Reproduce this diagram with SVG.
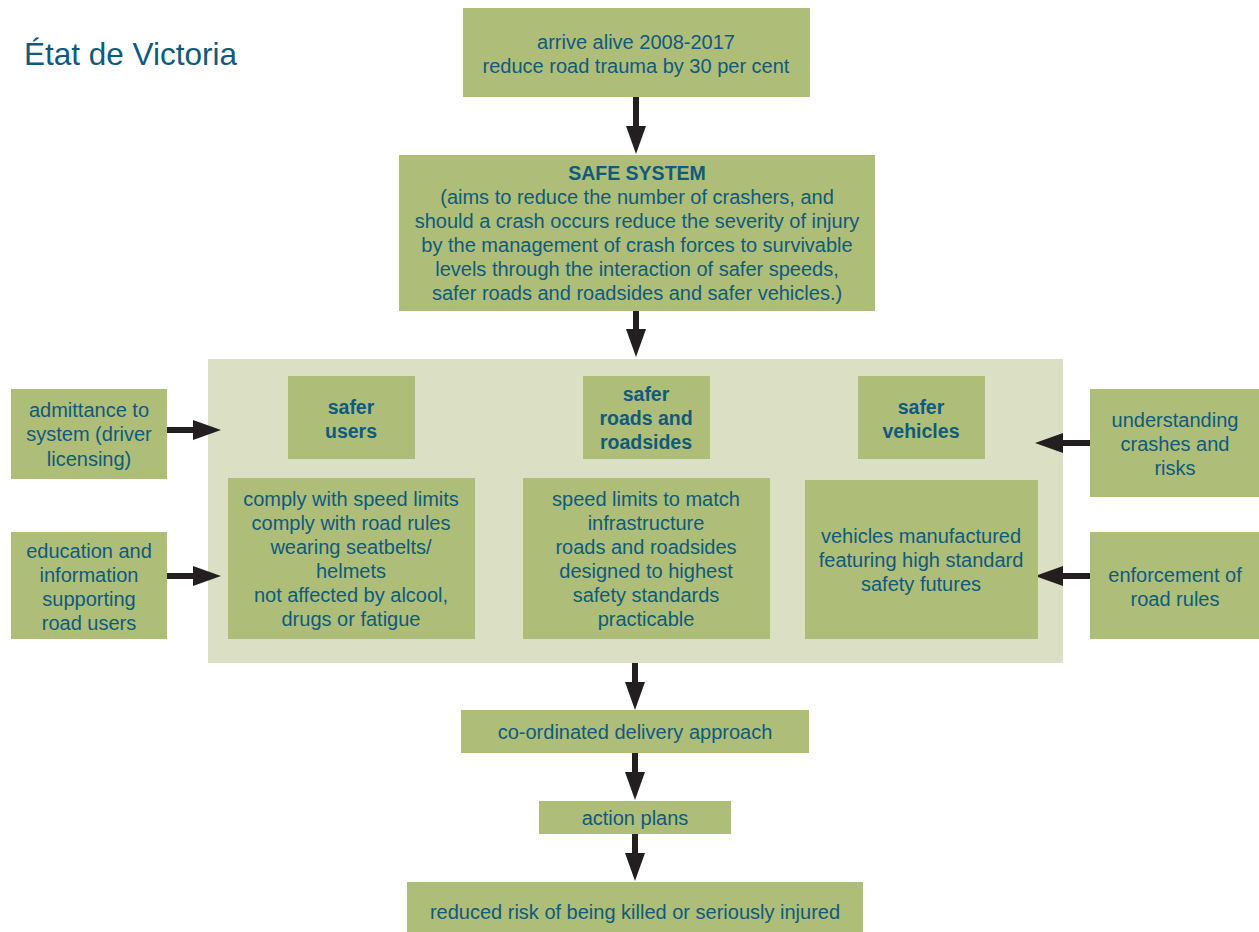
<svg xmlns="http://www.w3.org/2000/svg" width="1259" height="932" viewBox="0 0 1259 932">
<style>
.box{fill:#aebd78}
.bg{fill:#dbe0c5}
text{font-family:"Liberation Sans",Arial,sans-serif;font-size:20px;fill:#0e5b7d;text-anchor:middle}
.b{font-weight:bold;font-size:19.5px}
.title{font-size:31.5px;text-anchor:start}
.arr{stroke:#231f20;stroke-width:6;fill:none;marker-end:url(#ah)}
</style>
<defs>
<marker id="ah" markerUnits="userSpaceOnUse" markerWidth="28" markerHeight="20" refX="1" refY="10" orient="auto">
<path d="M0,0 L28,10 L0,20 z" fill="#231f20"/>
</marker>
</defs>
<rect width="1259" height="932" fill="#ffffff"/>
<text class="title" x="24" y="65">État de Victoria</text>
<g id="system-area"><rect class="bg" x="208" y="359" width="855" height="304"/></g>
<g id="connectors">
<line class="arr" x1="636" y1="97" x2="636" y2="127"/>
<line class="arr" x1="636" y1="311" x2="636" y2="330"/>
<line class="arr" x1="167" y1="430" x2="194" y2="430"/>
<line class="arr" x1="167" y1="576" x2="194" y2="576"/>
<line class="arr" x1="1090" y1="443" x2="1062" y2="443"/>
<line class="arr" x1="1090" y1="576" x2="1062" y2="576"/>
<line class="arr" x1="635" y1="663" x2="635" y2="683"/>
<line class="arr" x1="635" y1="753" x2="635" y2="773"/>
<line class="arr" x1="635" y1="834" x2="635" y2="854"/>
</g>
<g id="arrive-alive"><rect class="box" x="463" y="8" width="347" height="89"/>
<text x="636" y="49">arrive alive 2008-2017</text>
<text x="636" y="73">reduce road trauma by 30 per cent</text></g>
<g id="safe-system"><rect class="box" x="399" y="155" width="476" height="156"/>
<text class="b" x="637" y="180">SAFE SYSTEM</text>
<text x="637" y="204">(aims to reduce the number of crashers, and</text>
<text x="637" y="228">should a crash occurs reduce the severity of injury</text>
<text x="637" y="252">by the management of crash forces to survivable</text>
<text x="637" y="276">levels through the interaction of safer speeds,</text>
<text x="637" y="300">safer roads and roadsides and safer vehicles.)</text></g>
<g id="admittance"><rect class="box" x="11" y="389" width="156" height="90"/>
<text x="89" y="417">admittance to</text>
<text x="89" y="441">system (driver</text>
<text x="89" y="466">licensing)</text></g>
<g id="education"><rect class="box" x="11" y="532" width="156" height="107"/>
<text x="89" y="558">education and</text>
<text x="89" y="582">information</text>
<text x="89" y="606">supporting</text>
<text x="89" y="630">road users</text></g>
<g id="safer-users"><rect class="box" x="288" y="376" width="127" height="83"/>
<text class="b" x="351" y="414">safer</text>
<text class="b" x="351" y="438">users</text></g>
<g id="users-detail"><rect class="box" x="228" y="478" width="247" height="161"/>
<text x="351" y="506">comply with speed limits</text>
<text x="351" y="530">comply with road rules</text>
<text x="351" y="554">wearing seatbelts/</text>
<text x="351" y="578">helmets</text>
<text x="351" y="602">not affected by alcool,</text>
<text x="351" y="626">drugs or fatigue</text></g>
<g id="safer-roads"><rect class="box" x="583" y="376" width="127" height="83"/>
<text class="b" x="646" y="401">safer</text>
<text class="b" x="646" y="425">roads and</text>
<text class="b" x="646" y="449">roadsides</text></g>
<g id="roads-detail"><rect class="box" x="523" y="478" width="247" height="161"/>
<text x="646" y="506">speed limits to match</text>
<text x="646" y="530">infrastructure</text>
<text x="646" y="554">roads and roadsides</text>
<text x="646" y="578">designed to highest</text>
<text x="646" y="602">safety standards</text>
<text x="646" y="626">practicable</text></g>
<g id="safer-vehicles"><rect class="box" x="858" y="376" width="127" height="83"/>
<text class="b" x="921" y="414">safer</text>
<text class="b" x="921" y="438">vehicles</text></g>
<g id="vehicles-detail"><rect class="box" x="805" y="480" width="233" height="159"/>
<text x="921" y="543">vehicles manufactured</text>
<text x="921" y="567">featuring high standard</text>
<text x="921" y="591">safety futures</text></g>
<g id="understanding"><rect class="box" x="1090" y="389" width="169" height="108"/>
<text x="1175" y="427">understanding</text>
<text x="1175" y="451">crashes and</text>
<text x="1175" y="475">risks</text></g>
<g id="enforcement"><rect class="box" x="1090" y="532" width="169" height="107"/>
<text x="1175" y="582">enforcement of</text>
<text x="1175" y="606">road rules</text></g>
<g id="coordinated"><rect class="box" x="461" y="710" width="348" height="43"/>
<text x="635" y="739">co-ordinated delivery approach</text></g>
<g id="action-plans"><rect class="box" x="539" y="801" width="192" height="33"/>
<text x="635" y="825">action plans</text></g>
<g id="reduced-risk"><rect class="box" x="407" y="882" width="456" height="50"/>
<text x="635" y="919">reduced risk of being killed or seriously injured</text></g>
</svg>
